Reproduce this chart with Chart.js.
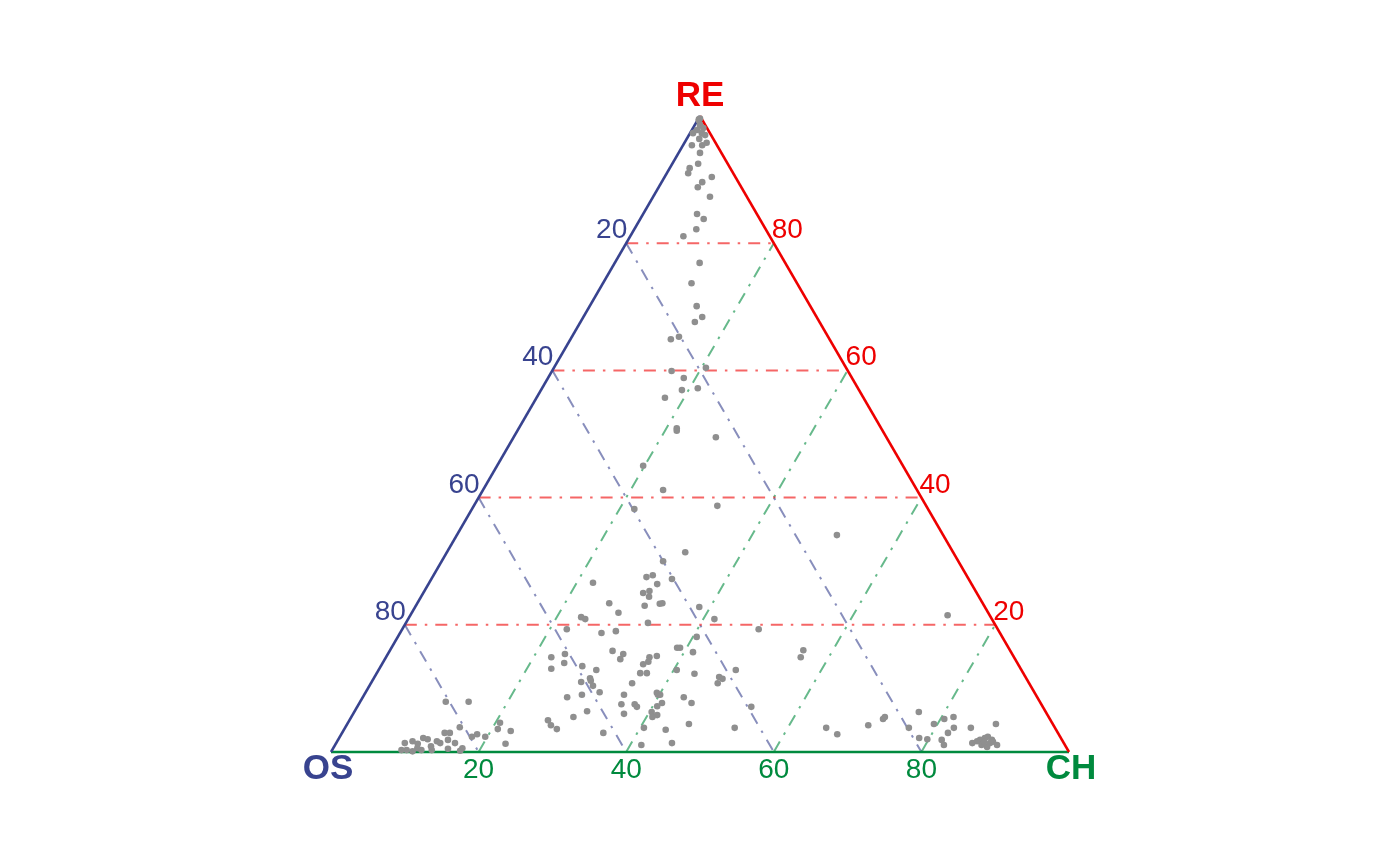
<!DOCTYPE html>
<html>
<head>
<meta charset="utf-8">
<script src="https://cdn.jsdelivr.net/npm/chart.js@4"></script>
<style>
  body { margin: 0; background: #fff; }
</style>
</head>
<body>
<canvas id="chart-ternary" width="1400" height="866"></canvas>
<script>
// ternary sample values, in percent (RE + CH + OS = 100)
var re = [99.6, 99.3, 98.6, 97.8, 97.3, 97.3, 97.0, 95.4, 95.4, 95.8, 94.2, 92.5, 91.8, 91.0, 90.4, 89.6, 88.8, 87.3, 84.6, 83.8, 82.2, 81.1, 99.5, 98.1, 96.4,
    76.9, 73.7, 70.1, 68.4, 67.6, 64.9, 65.3, 60.4, 59.9, 58.8, 56.9, 57.2, 55.7, 50.9, 50.5, 49.5,
    45.0, 41.2, 38.2, 38.7, 34.1, 31.4, 30.0,
    27.5, 27.8, 26.4, 27.2, 25.0, 25.3, 24.4, 23.3, 23.0, 26.6, 23.4, 21.9, 21.2, 20.9, 20.3, 19.3, 18.7, 19.0, 15.9, 15.4, 14.6, 14.9, 15.4, 14.9, 15.1, 14.2, 13.8, 13.1, 14.0, 13.5, 12.9, 12.4, 11.6, 16.4, 12.9,
    23.4, 22.8, 20.9, 19.3, 18.1, 16.4, 15.7, 16.0, 14.9, 12.3, 12.9, 11.8, 11.5, 10.8,
    11.0, 11.2, 10.4, 9.4, 8.6, 9.0, 6.4, 5.5, 5.0, 4.2, 3.6, 3.0, 12.4, 10.8, 9.0, 7.5, 6.0, 7.5, 7.1, 9.3, 9.0, 7.7, 7.2, 6.3, 5.5, 5.8, 3.8, 3.5, 1.4, 1.1,
    8.6, 7.7, 7.1, 4.4, 3.8, 9.0,
    7.9, 7.9, 3.9, 3.0, 3.0, 2.8, 2.4, 2.4, 4.6, 3.6, 3.3, 1.3, 1.4, 1.7, 2.2, 2.0, 1.7, 1.9, 1.4, 0.6, 0.3, 0.6, 0.3, 0.3, 0.5, 0.2, 0.1, 0.3, 1.4, 1.3, 0.9,
    21.5, 3.8, 2.8, 4.2, 5.2, 5.5, 6.3, 3.8, 2.2, 2.0, 4.4, 5.2, 5.5, 3.0, 3.8, 1.9, 1.1, 3.8, 4.4, 1.4, 1.9, 2.2, 2.4, 1.6, 1.1, 0.8, 1.4, 1.1, 1.7, 1.6, 1.9];
var ch = [0.2, 0.2, 0.7, 0.7, 1.6, 0.4, 2.2, 1.2, 2.6, 3.0, 2.9, 3.5, 2.7, 2.9, 6.4, 5.5, 5.3, 7.7, 7.3, 8.6, 8.4, 7.2, 0.1, 1.4, 1.7,
    11.5, 12.0, 14.5, 16.1, 15.5, 13.6, 14.5, 20.6, 16.2, 18.4, 19.1, 21.1, 17.4, 21.4, 21.6, 27.4,
    19.8, 24.4, 22.0, 33.0, 51.5, 32.3, 30.0,
    29.0, 29.7, 31.0, 32.6, 29.8, 30.5, 30.9, 32.9, 31.0, 22.2, 26.0, 28.0, 23.3, 24.0, 32.8, 22.3, 27.3, 29.1, 30.2, 31.9, 31.9, 22.4, 24.0, 35.7, 36.6, 35.9, 35.4, 23.3, 24.6, 27.3, 29.5, 36.6, 29.3, 38.7, 40.4,
    33.2, 38.5, 41.5, 48.3, 40.5, 39.1, 41.2, 56.0, 56.2, 43.1, 48.4, 46.7, 47.3, 47.0,
    28.4, 29.6, 30.3, 31.7, 27.7, 29.5, 31.5, 30.1, 26.9, 27.7, 28.8, 35.4, 35.7, 35.4, 35.2, 35.6, 36.7, 37.4, 37.9, 39.5, 39.8, 41.0, 40.6, 40.3, 40.8, 41.3, 40.5, 43.6, 45.5, 41.5,
    43.5, 45.0, 53.4, 46.3, 52.8, 40.1,
    11.6, 14.7, 15.5, 13.9, 14.6, 18.4, 17.9, 19.7, 20.6, 20.8, 22.7, 23.0, 9.3, 10.2, 11.4, 12.1, 13.5, 14.9, 16.1, 17.5, 10.1, 11.4, 12.1, 13.5, 15.6, 17.4, 11.0, 9.4, 14.1, 11.1, 13.1,
    72.8, 65.2, 67.2, 70.7, 72.2, 72.3, 76.5, 76.4, 78.6, 79.8, 79.5, 80.5, 81.6, 82.1, 82.5, 81.8, 82.5, 84.8, 87.9, 86.2, 87.0, 87.5, 87.8, 88.9, 89.7, 88.5, 88.6, 87.6, 86.7, 87.7, 88.6];
var os = re.map(function (r, i) { return Math.max(0, Math.round((100 - r - ch[i]) * 10) / 10); });

var gridTicks = [20, 40, 60, 80];
var gridLabels = ['20', '40', '60', '80'];
var vertexNames = ['OS', 'CH', 'RE'];

var colOS = '#38438f';
var colCH = '#008a3e';
var colRE = '#ee0000';
var colOSGrid = 'rgba(56,67,143,0.6)';
var colCHGrid = 'rgba(0,138,62,0.6)';
var colREGrid = 'rgba(238,0,0,0.6)';
var H = Math.sqrt(3) / 2;

// ternary (re, ch) in percent -> cartesian point
function tern(r, c) {
    return { x: (c + r / 2) / 100, y: r / 100 * H };
}

var points = re.map(function (r, i) { return tern(r, ch[i]); });

function gridSet(data, color) {
    return {
        data: data, showLine: true, borderColor: color, borderWidth: 2,
        borderDash: [12, 8, 2.5, 8], pointRadius: 0, fill: false, order: 3, clip: false
    };
}
function edgeSet(a, b, color) {
    return {
        data: [a, b], showLine: true, borderColor: color, borderWidth: 2.5,
        pointRadius: 0, fill: false, order: 2, clip: false
    };
}

var datasets = [];
gridTicks.forEach(function (t) {
    datasets.push(gridSet([tern(t, 0), tern(t, 100 - t)], colREGrid));
    datasets.push(gridSet([tern(0, t), tern(100 - t, t)], colCHGrid));
    datasets.push(gridSet([tern(100 - t, 0), tern(0, 100 - t)], colOSGrid));
});
datasets.push(edgeSet(tern(0, 0), tern(100, 0), colOS));
datasets.push(edgeSet(tern(100, 0), tern(0, 100), colRE));
datasets.push(edgeSet(tern(0, 0), tern(0, 100), colCH));
datasets.push({
    data: points, backgroundColor: '#8f8f8f', borderWidth: 0,
    pointRadius: 3.3, order: 1, clip: false
});

var fontFam = "'Liberation Sans', Arial, Helvetica, sans-serif";

var ternaryLabels = {
    id: 'ternaryLabels',
    afterDatasetsDraw: function (chart) {
        var c = chart.ctx, sx = chart.scales.x, sy = chart.scales.y;
        function px(p) { return [sx.getPixelForValue(p.x), sy.getPixelForValue(p.y)]; }
        c.save();
        c.font = '28px ' + fontFam;
        c.textBaseline = 'alphabetic';
        gridTicks.forEach(function (t, i) {
            // OS ticks on the left edge
            var a = px(tern(100 - t, 0));
            c.fillStyle = colOS; c.textAlign = 'right';
            c.fillText(gridLabels[i], a[0] + 1, a[1] - 5);
            // RE ticks on the right edge
            var b = px(tern(t, 100 - t));
            c.fillStyle = colRE; c.textAlign = 'left';
            c.fillText(gridLabels[i], b[0] - 2, b[1] - 5);
            // CH ticks on the bottom edge
            var d = px(tern(0, t));
            c.fillStyle = colCH; c.textAlign = 'center';
            c.fillText(gridLabels[i], d[0], d[1] + 26);
        });
        c.font = 'bold 35px ' + fontFam;
        c.textAlign = 'center';
        var o = px(tern(0, 0)), h = px(tern(0, 100)), r = px(tern(100, 0));
        c.fillStyle = colOS; c.fillText(vertexNames[0], o[0] - 3, o[1] + 27);
        c.fillStyle = colCH; c.fillText(vertexNames[1], h[0] + 2, h[1] + 27);
        c.fillStyle = colRE; c.fillText(vertexNames[2], r[0], r[1] - 10);
        c.restore();
    }
};

var chartTernary = new Chart(document.getElementById('chart-ternary'), {
    type: 'scatter',
    data: { datasets: datasets },
    options: {
        responsive: false,
        animation: false,
        layout: { padding: { left: 331, right: 331, top: 116, bottom: 114 } },
        scales: {
            x: { type: 'linear', min: 0, max: 1, display: false },
            y: { type: 'linear', min: 0, max: H, display: false }
        },
        plugins: { legend: { display: false }, tooltip: { enabled: false } }
    },
    plugins: [ternaryLabels]
});
</script>
</body>
</html>
